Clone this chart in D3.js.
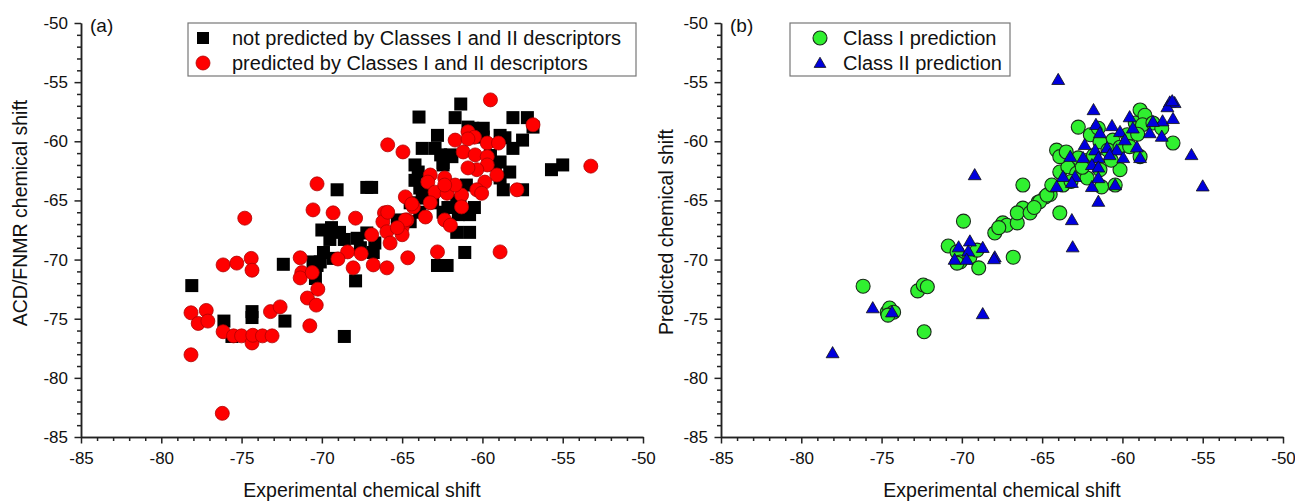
<!DOCTYPE html>
<html>
<head>
<meta charset="utf-8">
<script src="https://cdn.jsdelivr.net/npm/d3@7"></script>
<style>
  body { margin: 0; background: #fff; }
  svg text { font-family: "Liberation Sans", Arial, sans-serif; fill: #111; }
</style>
</head>
<body>
<svg id="chart" width="1295" height="502"></svg>
<script>
// ---- data: [experimental shift, predicted shift] ----
const notPredicted = [
  [-78.1,-72.2],[-76.1,-75.2],[-74.35,-74.4],[-74.35,-74.9],[-75.6,-76.5],[-72.3,-75.2],
  [-72.4,-70.4],[-70.4,-71.6],[-70.1,-70.2],[-70.55,-70.2],[-69.9,-69.4],[-67.9,-71.8],
  [-68.6,-76.5],[-66.8,-69.4],[-70.0,-67.5],[-69.4,-67.3],[-68.9,-67.7],[-69.5,-68.3],
  [-68.6,-68.3],[-65.3,-66.65],[-69.05,-64.1],[-67.2,-63.9],[-66.9,-63.9],[-62.8,-70.5],
  [-62.2,-70.5],[-61.1,-69.4],[-61.35,-56.85],[-63.95,-57.95],[-61.7,-58.0],[-58.1,-58.0],
  [-57.2,-58.0],[-56.85,-58.8],[-62.8,-59.5],[-63.75,-60.6],[-62.95,-60.6],[-60.6,-58.9],
  [-59.95,-58.9],[-58.9,-59.5],[-58.6,-59.7],[-57.5,-59.9],[-58.1,-60.6],[-62.45,-61.8],
  [-61.9,-61.3],[-58.9,-61.75],[-64.0,-62.6],[-63.9,-63.95],[-58.7,-64.1],[-57.5,-64.1],
  [-55.7,-62.4],[-55.0,-62.0],[-60.5,-65.6],[-61.5,-66.2],[-61.6,-67.7],[-62.15,-65.6],
  [-63.75,-64.8],[-62.45,-66.0],[-63.1,-65.2],[-67.8,-68.2],[-67.2,-67.75],[-66.7,-68.6],
  [-64.5,-65.2],[-64.2,-62.0],[-64.2,-63.3],[-63.9,-66.0],[-64.5,-66.8],[-62.6,-61.15],
  [-61.4,-65.0],[-59.2,-62.0],[-58.9,-63.1],[-60.8,-67.7],[-59.95,-59.65],[-60.9,-58.8],
  [-62.0,-61.15],[-62.45,-62.0],[-61.0,-63.7],[-61.6,-65.1],[-60.8,-66.2],[-63.7,-64.5],
  [-59.5,-61.2],[-58.3,-62.6],[-70.3,-70.5],[-69.3,-69.9],[-67.6,-69.0]
];
const predictedBoth = [
  [-76.15,-70.45],[-75.3,-70.3],[-74.4,-69.9],[-74.35,-70.9],[-78.15,-74.5],[-77.7,-75.4],
  [-77.2,-74.3],[-77.1,-75.2],[-78.15,-78.05],[-76.2,-83.0],[-76.15,-76.1],[-75.5,-76.45],
  [-75.0,-76.45],[-74.35,-77.05],[-74.3,-76.4],[-73.7,-76.45],[-73.1,-76.45],[-73.2,-74.4],
  [-72.6,-74.0],[-71.35,-69.85],[-71.25,-71.1],[-71.35,-71.55],[-70.9,-73.25],[-70.25,-72.5],
  [-70.35,-73.85],[-70.75,-75.6],[-70.6,-71.1],[-70.3,-63.6],[-70.55,-65.8],[-74.8,-66.5],
  [-69.3,-66.05],[-67.9,-66.5],[-66.1,-66.05],[-66.2,-66.8],[-66.9,-67.9],[-65.95,-67.65],
  [-65.0,-67.3],[-65.75,-68.6],[-64.7,-66.65],[-64.3,-65.55],[-68.4,-69.35],[-67.55,-69.5],
  [-69.0,-69.95],[-68.05,-70.7],[-66.8,-70.45],[-65.95,-70.7],[-64.65,-69.85],
  [-59.5,-56.5],[-56.85,-58.6],[-65.9,-60.3],[-64.95,-60.9],[-53.25,-62.1],[-61.7,-59.9],
  [-60.9,-59.2],[-60.5,-59.65],[-59.7,-60.15],[-59.0,-60.15],[-61.2,-60.9],[-60.45,-61.15],
  [-59.7,-61.3],[-59.7,-62.0],[-60.35,-62.4],[-60.9,-62.25],[-59.1,-62.85],[-59.85,-63.45],
  [-60.35,-64.1],[-60.05,-64.4],[-57.85,-64.1],[-62.35,-63.1],[-63.25,-62.85],[-63.4,-63.45],
  [-62.95,-64.3],[-62.2,-64.4],[-61.3,-64.55],[-61.7,-63.7],[-64.8,-64.7],[-64.4,-65.3],
  [-63.25,-65.2],[-63.55,-66.4],[-65.9,-66.0],[-64.8,-66.65],[-62.35,-66.65],[-62.0,-67.1],
  [-65.0,-67.9],[-62.8,-69.35],[-58.9,-69.35],[-61.3,-65.55],[-60.9,-59.8],[-62.35,-63.7],
  [-65.3,-67.3]
];
const classI = [
  [-76.15,-72.25],[-74.65,-74.45],[-74.5,-74.1],[-74.25,-74.45],[-74.6,-74.7],[-72.35,-76.1],
  [-72.75,-72.65],[-72.4,-72.15],[-72.15,-72.3],[-70.85,-68.85],[-69.9,-66.75],[-70.3,-69.35],
  [-70.1,-70.2],[-70.3,-70.3],[-69.5,-69.8],[-69.05,-69.2],[-68.95,-70.7],[-66.8,-69.8],
  [-67.95,-67.75],[-67.45,-66.9],[-67.2,-67.1],[-66.55,-66.9],[-66.2,-65.65],[-66.55,-66.05],
  [-65.75,-66.05],[-65.25,-65.15],[-64.8,-64.7],[-66.2,-63.7],[-64.5,-64.5],[-63.9,-66.05],
  [-65.15,-65.1],[-64.7,-64.55],[-64.4,-63.7],[-63.7,-63.7],[-63.9,-62.6],[-63.4,-62.15],
  [-62.85,-62.7],[-62.2,-63.1],[-64.1,-60.75],[-63.9,-61.3],[-62.75,-61.4],[-62.15,-61.6],
  [-61.4,-62.4],[-61.3,-63.85],[-60.45,-63.7],[-60.15,-62.4],[-60.6,-59.9],[-62.0,-59.45],
  [-62.75,-58.8],[-61.5,-58.9],[-61.4,-60.05],[-60.9,-60.75],[-59.7,-59.45],[-59.2,-58.45],
  [-58.9,-57.35],[-58.6,-57.8],[-58.75,-58.6],[-58.1,-58.45],[-57.55,-58.9],[-56.85,-60.15],
  [-58.9,-61.3],[-60.15,-60.5],[-59.55,-60.45],[-59.05,-59.4],[-67.7,-67.3],[-65.5,-65.6],
  [-63.2,-63.4],[-62.5,-62.2],[-61.8,-61.2],[-60.7,-61.6],[-63.5,-60.9]
];
const classII = [
  [-64.0,-54.8],[-57.05,-56.7],[-56.75,-56.75],[-57.2,-57.1],[-56.9,-56.6],[-61.8,-57.35],
  [-59.55,-57.95],[-57.5,-58.3],[-56.85,-58.1],[-58.1,-58.35],[-60.65,-58.7],[-61.65,-58.6],
  [-61.4,-59.3],[-58.3,-59.3],[-57.55,-59.6],[-59.35,-58.9],[-60.15,-59.2],[-59.85,-59.9],
  [-62.35,-60.3],[-61.7,-60.75],[-60.95,-60.55],[-60.35,-60.75],[-59.1,-60.5],[-55.7,-61.15],
  [-63.25,-61.3],[-62.45,-61.4],[-61.5,-61.4],[-60.8,-61.15],[-59.95,-61.4],[-58.9,-61.4],
  [-61.9,-62.0],[-61.5,-62.2],[-63.7,-63.0],[-62.95,-63.0],[-64.1,-63.85],[-63.15,-63.5],
  [-61.9,-63.85],[-61.5,-63.1],[-60.45,-63.7],[-55.0,-63.8],[-61.5,-65.1],[-63.15,-66.65],
  [-63.1,-68.95],[-69.2,-62.85],[-68.7,-69.0],[-67.95,-69.8],[-75.55,-74.1],[-74.35,-74.45],
  [-70.2,-68.95],[-69.5,-68.45],[-69.6,-69.3],[-70.45,-70.0],[-69.7,-70.0],[-68.0,-69.95],
  [-68.7,-74.6],[-78.05,-77.9]
];
const axisDomain = [-85, -50];
const majorTicks = [-85, -80, -75, -70, -65, -60, -55, -50];
const minorTicks = d3.range(-85, -49, 1).filter(v => !majorTicks.includes(v));

const svg = d3.select("#chart");
const plotTop = 23, plotBottom = 437;

function panel(left, right, opts) {
  const x = d3.scaleLinear(axisDomain, [left, right]);
  const y = d3.scaleLinear([-50, -85], [plotTop, plotBottom]);
  const g = svg.append("g");

  // axes: minor ticks (no labels), then major ticks with labels
  const fmt = d => String(d);
  const minorX = d3.axisBottom(x).tickValues(minorTicks).tickSize(4).tickSizeOuter(0).tickFormat("");
  const minorY = d3.axisLeft(y).tickValues(minorTicks).tickSize(4).tickSizeOuter(0).tickFormat("");
  const majorX = d3.axisBottom(x).tickValues(majorTicks).tickSize(6.5).tickSizeOuter(0).tickPadding(8.5).tickFormat(fmt);
  const majorY = d3.axisLeft(y).tickValues(majorTicks).tickSize(6.5).tickSizeOuter(0).tickPadding(6.5).tickFormat(fmt);

  [minorX, majorX].forEach(a => g.append("g").attr("transform", `translate(0,${plotBottom})`).call(a));
  [minorY, majorY].forEach(a => g.append("g").attr("transform", `translate(${left},0)`).call(a));
  g.selectAll(".domain, .tick line").attr("stroke", "#222").attr("stroke-width", 1.5);
  g.selectAll(".tick text").attr("font-family", null).style("font-size", "17px").attr("fill", "#111");

  // axis titles
  g.append("text")
    .attr("x", (left + right) / 2).attr("y", 497)
    .attr("text-anchor", "middle").style("font-size", "19.5px")
    .text("Experimental chemical shift");
  g.append("text")
    .attr("transform", `translate(${opts.ytitleX},${opts.ytitleY}) rotate(-90)`)
    .attr("text-anchor", "middle").style("font-size", "19.5px")
    .text(opts.ytitle);

  // panel label
  g.append("text").attr("x", left + 9).attr("y", 32).style("font-size", "19px").text(opts.label);

  // points
  opts.series.forEach(s => {
    const pts = g.append("g");
    if (s.shape === "square") {
      pts.selectAll("rect").data(s.data).join("rect")
        .attr("x", d => x(d[0]) - 6.5).attr("y", d => y(d[1]) - 6.5)
        .attr("width", 13).attr("height", 13).attr("fill", s.fill);
    } else if (s.shape === "circle") {
      pts.selectAll("circle").data(s.data).join("circle")
        .attr("cx", d => x(d[0])).attr("cy", d => y(d[1])).attr("r", 7)
        .attr("fill", s.fill).attr("stroke", s.stroke).attr("stroke-width", s.sw);
    } else {
      const tri = d3.symbol(d3.symbolTriangle, 72);
      pts.selectAll("path").data(s.data).join("path")
        .attr("transform", d => `translate(${x(d[0])},${y(d[1]) + 1})`)
        .attr("d", tri).attr("fill", s.fill).attr("stroke", s.stroke).attr("stroke-width", s.sw);
    }
  });

  // legend
  const lg = g.append("g");
  lg.append("rect").attr("x", opts.legend.x).attr("y", 23).attr("width", opts.legend.w).attr("height", 53)
    .attr("fill", "#fff").attr("stroke", "#777").attr("stroke-width", 1.2);
  opts.series.forEach((s, i) => {
    const cy = 38 + i * 25, mx = opts.legend.mx;
    if (s.shape === "square") {
      lg.append("rect").attr("x", mx - 6).attr("y", cy - 6).attr("width", 12).attr("height", 12).attr("fill", s.fill);
    } else if (s.shape === "circle") {
      lg.append("circle").attr("cx", mx).attr("cy", cy).attr("r", 7)
        .attr("fill", s.fill).attr("stroke", s.stroke).attr("stroke-width", s.sw);
    } else {
      lg.append("path").attr("transform", `translate(${mx},${cy + 1})`)
        .attr("d", d3.symbol(d3.symbolTriangle, 60)).attr("fill", s.fill).attr("stroke", s.stroke).attr("stroke-width", s.sw);
    }
    lg.append("text").attr("x", opts.legend.tx).attr("y", cy).attr("dominant-baseline", "central")
      .style("font-size", "20px").text(s.name);
  });
}

panel(81, 643, {
  label: "(a)", ytitle: "ACD/FNMR chemical shift", ytitleX: 27, ytitleY: 213,
  legend: { x: 188, w: 448, mx: 203, tx: 232 },
  series: [
    { name: "not predicted by Classes I and II descriptors", data: notPredicted, shape: "square", fill: "#000" },
    { name: "predicted by Classes I and II descriptors", data: predictedBoth, shape: "circle", fill: "#ff0000", stroke: "#b00000", sw: 0.8 }
  ]
});

panel(721, 1283, {
  label: "(b)", ytitle: "Predicted chemical shift", ytitleX: 673, ytitleY: 232,
  legend: { x: 790, w: 220, mx: 820, tx: 843 },
  series: [
    { name: "Class I prediction", data: classI, shape: "circle", fill: "#30f030", stroke: "#1a2a1a", sw: 1.1 },
    { name: "Class II prediction", data: classII, shape: "triangle", fill: "#0000dd", stroke: "#111", sw: 0.8 }
  ]
});
</script>
</body>
</html>
